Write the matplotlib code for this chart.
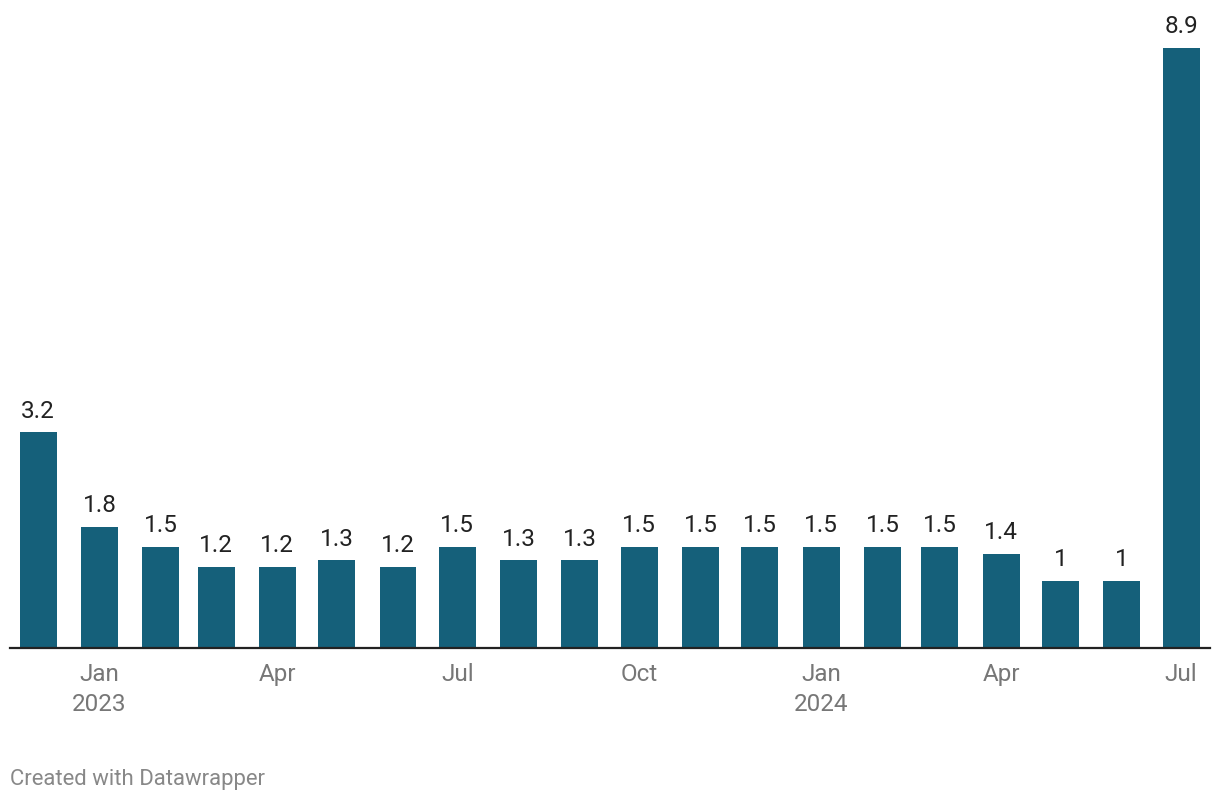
import matplotlib
matplotlib.use("Agg")
import matplotlib.pyplot as plt
import matplotlib.dates as mdates
import datetime as dt

months = ["2022-12", "2023-01", "2023-02", "2023-03", "2023-04", "2023-05", "2023-06",
          "2023-07", "2023-08", "2023-09", "2023-10", "2023-11", "2023-12", "2024-01",
          "2024-02", "2024-03", "2024-04", "2024-05", "2024-06", "2024-07"]
values = [3.2, 1.8, 1.5, 1.2, 1.2, 1.3, 1.2, 1.5, 1.3, 1.3, 1.5, 1.5, 1.5, 1.5,
          1.5, 1.5, 1.4, 1, 1, 8.9]
tick_months = ["2023-01", "2023-04", "2023-07", "2023-10", "2024-01", "2024-04", "2024-07"]
tick_labels = ["Jan\n2023", "Apr", "Jul", "Oct", "Jan\n2024", "Apr", "Jul"]

plt.rcParams['font.family'] = ['Roboto', 'DejaVu Sans']

def to_date(s):
    y, m = s.split("-")
    return dt.datetime(int(y), int(m), 1)

dates = [to_date(m) for m in months]
tdates = [to_date(m) for m in tick_months]

fig = plt.figure(figsize=(12.2, 8), dpi=100)
ax = fig.add_axes([10/1220, 152/800, 1200/1220, 600/800])

bar_color = "#15607a"
ax.bar(dates, values, width=18.7, color=bar_color, align="center", zorder=2)

for d, v in zip(dates, values):
    label = f"{v:g}"
    ax.annotate(label, (mdates.date2num(d), v), xytext=(0, 7), textcoords="offset points",
                ha="center", va="bottom", fontsize=17.5, color="#222222", annotation_clip=False)

x0 = mdates.date2num(dt.datetime(2022, 12, 1)) - 14.2
x1 = mdates.date2num(dt.datetime(2024, 7, 1)) + 14.6
ax.set_xlim(x0, x1)
ax.set_ylim(0, 8.9)

for s in ["top", "right", "left"]:
    ax.spines[s].set_visible(False)
ax.spines["bottom"].set_color("#222222")
ax.spines["bottom"].set_linewidth(1.6)
ax.spines["bottom"].set_zorder(3)

ax.set_yticks([])
ax.set_xticks([mdates.date2num(d) for d in tdates])
ax.set_xticklabels(tick_labels, fontsize=17.5, color="#777777", linespacing=1.38)
ax.tick_params(axis="x", length=0, pad=11)

fig.text(10/1220, 1 - 779/800, "Created with Datawrapper", fontsize=15.9, color="#888888",
         ha="left", va="center")

fig.savefig("out.png", dpi=100, facecolor="white")
